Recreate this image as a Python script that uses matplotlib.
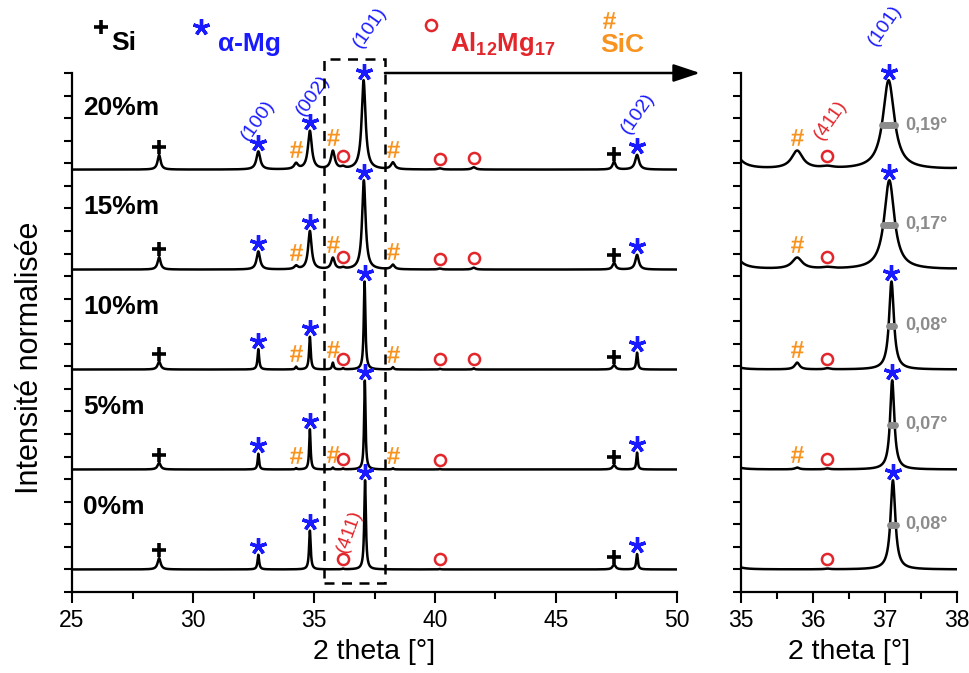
import numpy as np
import matplotlib
matplotlib.use('Agg')
import matplotlib.pyplot as plt
from matplotlib.patches import Rectangle
from matplotlib.lines import Line2D

plt.rcParams['font.family'] = ['Liberation Sans', 'DejaVu Sans']
plt.rcParams['mathtext.fontset'] = 'custom'
plt.rcParams['mathtext.rm'] = 'Liberation Sans'
plt.rcParams['mathtext.bf'] = 'Liberation Sans:bold'

# samples, bottom to top
samples = ['0%m', '5%m', '10%m', '15%m', '20%m']
offsets = [1.0, 5.43, 9.86, 14.29, 18.72]
fwhm = [0.08, 0.07, 0.08, 0.17, 0.19]
pos_101 = [37.11, 37.10, 37.09, 37.06, 37.05]

# peak list (2 theta) and phase of each peak
peak_pos = [28.6, 32.7, 34.26, 34.83, 35.78, 36.2, 37.1, 38.26, 40.2, 41.6, 47.4, 48.35]
peak_phase = ['Si', 'Mg', 'SiC', 'Mg', 'SiC', 'Al', 'Mg', 'SiC', 'Al', 'Al', 'Si', 'Mg']

# normalised peak heights per sample
h_0 = [0.50, 0.65, 0.00, 1.72, 0.00, 0.03, 3.95, 0.00, 0.02, 0.00, 0.22, 0.68]
h_5 = [0.30, 0.70, 0.05, 1.78, 0.08, 0.04, 3.95, 0.05, 0.02, 0.00, 0.20, 0.75]
h_10 = [0.35, 0.90, 0.12, 1.45, 0.30, 0.05, 3.90, 0.10, 0.03, 0.05, 0.20, 0.75]
h_15 = [0.55, 0.80, 0.15, 1.70, 0.50, 0.06, 3.95, 0.20, 0.04, 0.08, 0.30, 0.65]
h_20 = [0.65, 0.80, 0.25, 1.70, 0.80, 0.08, 3.95, 0.30, 0.05, 0.10, 0.35, 0.65]
heights = [h_0, h_5, h_10, h_15, h_20]

# which peaks carry a phase symbol
marked = [
    [0, 1, 3, 5, 6, 8, 10, 11],
    [0, 1, 2, 3, 4, 5, 6, 7, 8, 10, 11],
    list(range(12)),
    list(range(12)),
    list(range(12)),
]

fwhm_labels = ['0,08°', '0,07°', '0,08°', '0,17°', '0,19°']

BLUE = '#1a1aff'
RED = '#e3262b'
ORANGE = '#f7931e'
GRAY = '#8c8c8c'

styles = {
    'Si': dict(marker='+', color='k', ms=10, mew=2.6),
    'Mg': dict(marker=(5, 2, 0), color=BLUE, ms=12, mew=2.4),
    'SiC': dict(marker=r'$\mathbf{\#}$', color=ORANGE, ms=12, mew=0),
    'Al': dict(marker='o', color=RED, mfc='none', ms=8, mew=1.8),
}
pad = {'Si': 0.35, 'Mg': 0.38, 'SiC': 0.6, 'Al': 0.42}


def positions(i):
    p = list(peak_pos)
    p[6] = pos_101[i]
    return p


def pattern(x, i):
    y = np.zeros_like(x)
    for j, p in enumerate(positions(i)):
        w = 0.15 if peak_phase[j] == 'Si' else fwhm[i]
        y += heights[i][j] * (w / 2) ** 2 / ((x - p) ** 2 + (w / 2) ** 2)
    return y


fig = plt.figure(figsize=(9.69, 6.73), dpi=100)
ax1 = fig.add_axes([72 / 969, 1 - 592 / 673, 605 / 969, 519 / 673])
ax2 = fig.add_axes([741 / 969, 1 - 592 / 673, 216 / 969, 519 / 673])

for ax, (x0, x1) in [(ax1, (25, 50)), (ax2, (35, 38))]:
    x = np.linspace(x0, x1, 6000)
    for i in range(len(samples)):
        base = offsets[i]
        ax.plot(x, base + pattern(x, i), color='k', lw=1.8, zorder=3)
        pos = positions(i)
        for j in marked[i]:
            if not (x0 < pos[j] < x1):
                continue
            ph = peak_phase[j]
            yv = base + pattern(np.array([pos[j]]), i)[0] + pad[ph]
            ax.plot(pos[j], yv, ls='none', zorder=4, clip_on=False, **styles[ph])
    ax.set_xlim(x0, x1)
    ax.set_ylim(0, 23)
    ax.set_yticks(np.arange(0, 24, 1))
    ax.set_yticklabels([])
    ax.spines['top'].set_visible(False)
    ax.spines['right'].set_visible(False)
    for s in ['left', 'bottom']:
        ax.spines[s].set_linewidth(1.6)
    ax.tick_params(axis='y', direction='out', length=6, width=1.5)
    ax.tick_params(axis='x', which='major', direction='out', length=8, width=1.5,
                   labelsize=16.5, pad=4)
    ax.tick_params(axis='x', which='minor', direction='out', length=5, width=1.5)
    ax.set_xlabel('2 theta [°]', fontsize=20.5, labelpad=5)

ax1.set_xticks(np.arange(25, 51, 5))
ax1.set_xticks(np.arange(27.5, 50, 5), minor=True)
ax2.set_xticks([35, 36, 37, 38])
ax2.set_xticks([35.5, 36.5, 37.5], minor=True)

# sample names
for i, name in enumerate(samples):
    ax1.text(25.45, offsets[i] + 2.75, name, fontsize=19, fontweight='bold',
             va='center', ha='left')

# FWHM bars and values on the zoom panel
for i in range(len(samples)):
    p = pos_101[i]
    yh = offsets[i] + heights[i][6] / 2
    ax2.plot([p - fwhm[i] / 2, p + fwhm[i] / 2], [yh, yh], color=GRAY, lw=5,
             solid_capstyle='round', zorder=5)
    ax2.text(37.28, yh, fwhm_labels[i], color=GRAY, fontsize=13, fontweight='bold',
             va='center', ha='left')

# Miller indices
hkl_kw = dict(fontsize=14, rotation=55, ha='center', va='center')
ax1.text(32.7, 20.9, '(100)', color=BLUE, clip_on=False, **hkl_kw)
ax1.text(34.95, 22.0, '(002)', color=BLUE, clip_on=False, **hkl_kw)
ax1.text(37.3, 25.0, '(101)', color=BLUE, clip_on=False, **hkl_kw)
ax1.text(48.4, 21.2, '(102)', color=BLUE, clip_on=False, **hkl_kw)
ax1.text(36.45, 2.7, '(411)', color=RED, fontsize=14, rotation=70,
         ha='center', va='center')
ax2.text(37.0, 25.1, '(101)', color=BLUE, clip_on=False, **hkl_kw)
ax2.text(36.25, 20.9, '(411)', color=RED, clip_on=False, **hkl_kw)

# zoom box and arrow
ax1.add_patch(Rectangle((35.42, 0.4), 2.51, 23.2, fill=False, ls=(0, (4, 3)),
                        lw=1.8, ec='k', clip_on=False, zorder=6))
ax1.annotate('', xy=(50.95, 23.0), xytext=(37.93, 23.0), annotation_clip=False,
             arrowprops=dict(arrowstyle='-|>,head_length=0.9,head_width=0.3',
                             color='k', lw=1.8, mutation_scale=18,
                             shrinkA=0, shrinkB=0))


# legend line at the top, placed in figure pixels
def fx(px):
    return px / 969


def fy(py):
    return 1 - py / 673


fig.text(fx(30), fy(358), 'Intensité normalisée', rotation=90, fontsize=22,
         ha='center', va='center')

fig.add_artist(Line2D([fx(101)], [fy(27)], transform=fig.transFigure, **styles['Si']))
fig.text(fx(111), fy(43), 'Si', fontsize=19, fontweight='bold', va='center')
fig.add_artist(Line2D([fx(201)], [fy(27)], transform=fig.transFigure, **styles['Mg']))
fig.text(fx(218), fy(44), 'α-Mg', fontsize=19, fontweight='bold', color=BLUE,
         va='center')
fig.add_artist(Line2D([fx(431)], [fy(25)], transform=fig.transFigure, **styles['Al']))
fig.text(fx(450), fy(44), r'$\mathbf{Al_{12}Mg_{17}}$', fontsize=18.5, color=RED,
         va='center')
fig.add_artist(Line2D([fx(609)], [fy(20)], transform=fig.transFigure, **styles['SiC']))
fig.text(fx(600), fy(45), 'SiC', fontsize=19, fontweight='bold', color=ORANGE,
         va='center')

fig.savefig('out.png', dpi=100)
